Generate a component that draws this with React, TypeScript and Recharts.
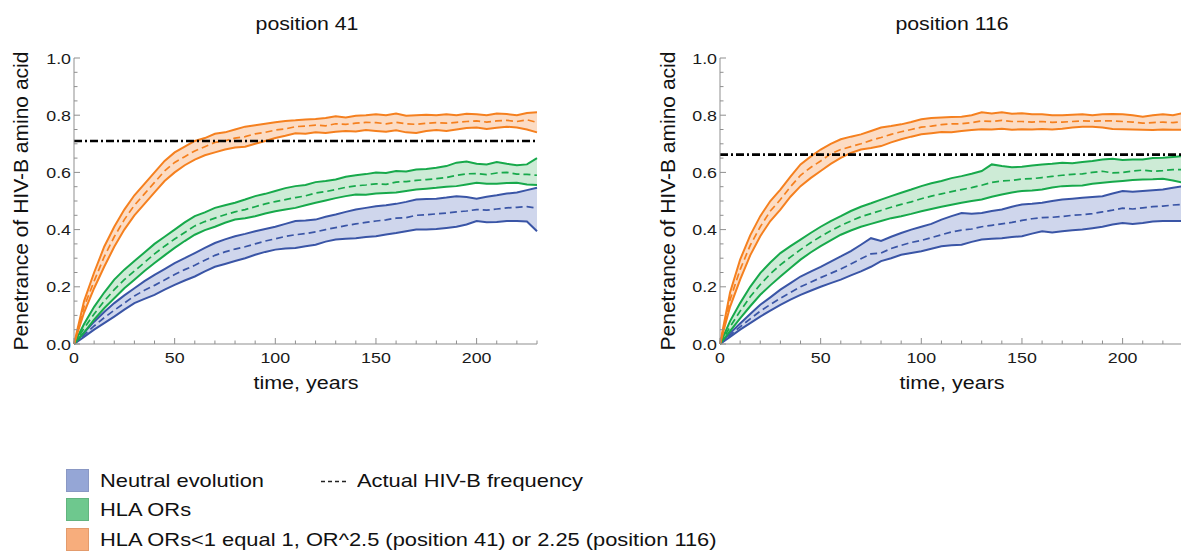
import React from 'react';
import { ComposedChart, Area, Line, XAxis, YAxis, ReferenceLine } from 'recharts';

// time axis, years (sampled every 5 years)
const years = [0, 5, 10, 15, 20, 25, 30, 35, 40, 45, 50, 55, 60, 65, 70, 75, 80, 85, 90, 95, 100, 105, 110, 115, 120, 125, 130, 135, 140, 145, 150, 155, 160, 165, 170, 175, 180, 185, 190, 195, 200, 205, 210, 215, 220, 225, 230];

const xTicks = [0, 10, 20, 30, 40, 50, 60, 70, 80, 90, 100, 110, 120, 130, 140, 150, 160, 170, 180, 190, 200, 210, 220, 230];
const yTicks = [0, 0.05, 0.1, 0.15, 0.2, 0.25, 0.3, 0.35, 0.4, 0.45, 0.5, 0.55, 0.6, 0.65, 0.7, 0.75, 0.8, 0.85, 0.9, 0.95, 1];

// actual HIV-B frequency (reference line)
const actual41 = 0.71;
const actual116 = 0.662;

// position 41
const blueLo41 = [0, 0.025, 0.05, 0.073, 0.096, 0.12, 0.143, 0.158, 0.172, 0.19, 0.207, 0.222, 0.236, 0.254, 0.27, 0.28, 0.29, 0.3, 0.312, 0.322, 0.33, 0.334, 0.336, 0.342, 0.347, 0.358, 0.365, 0.368, 0.37, 0.374, 0.377, 0.383, 0.388, 0.394, 0.4, 0.4, 0.402, 0.406, 0.41, 0.418, 0.43, 0.426, 0.427, 0.43, 0.43, 0.428, 0.394];
const blueMid41 = [0, 0.032, 0.063, 0.092, 0.118, 0.143, 0.168, 0.188, 0.205, 0.224, 0.243, 0.26, 0.275, 0.293, 0.31, 0.322, 0.332, 0.34, 0.35, 0.36, 0.368, 0.376, 0.382, 0.386, 0.392, 0.4, 0.407, 0.414, 0.42, 0.425, 0.43, 0.434, 0.44, 0.442, 0.45, 0.452, 0.455, 0.458, 0.462, 0.465, 0.47, 0.468, 0.472, 0.476, 0.478, 0.48, 0.475];
const blueHi41 = [0, 0.04, 0.078, 0.112, 0.143, 0.17, 0.195, 0.22, 0.242, 0.262, 0.283, 0.3, 0.318, 0.336, 0.353, 0.366, 0.377, 0.385, 0.394, 0.402, 0.41, 0.42, 0.43, 0.432, 0.435, 0.445, 0.453, 0.462, 0.47, 0.476, 0.482, 0.485, 0.49, 0.497, 0.505, 0.507, 0.508, 0.512, 0.517, 0.514, 0.508, 0.515, 0.52, 0.526, 0.53, 0.538, 0.546];
const greenLo41 = [0, 0.04, 0.085, 0.125, 0.16, 0.195, 0.225, 0.255, 0.283, 0.31, 0.336, 0.36, 0.382, 0.398, 0.41, 0.424, 0.435, 0.44, 0.447, 0.456, 0.464, 0.47, 0.476, 0.485, 0.494, 0.502, 0.51, 0.517, 0.523, 0.522, 0.526, 0.528, 0.53, 0.535, 0.54, 0.543, 0.546, 0.55, 0.552, 0.558, 0.564, 0.56, 0.56, 0.563, 0.564, 0.558, 0.556];
const greenMid41 = [0, 0.055, 0.105, 0.15, 0.19, 0.225, 0.255, 0.285, 0.315, 0.342, 0.367, 0.39, 0.413, 0.428, 0.44, 0.452, 0.462, 0.47, 0.48, 0.49, 0.498, 0.505, 0.512, 0.518, 0.528, 0.533, 0.54, 0.548, 0.553, 0.556, 0.56, 0.558, 0.566, 0.568, 0.572, 0.575, 0.578, 0.582, 0.59, 0.595, 0.596, 0.592, 0.598, 0.6, 0.594, 0.593, 0.59];
const greenHi41 = [0, 0.07, 0.13, 0.18, 0.225, 0.26, 0.29, 0.32, 0.35, 0.375, 0.4, 0.425, 0.447, 0.46, 0.476, 0.485, 0.494, 0.505, 0.517, 0.525, 0.535, 0.545, 0.552, 0.556, 0.566, 0.57, 0.575, 0.585, 0.59, 0.594, 0.6, 0.598, 0.605, 0.603, 0.61, 0.612, 0.616, 0.622, 0.634, 0.638, 0.63, 0.628, 0.636, 0.63, 0.625, 0.628, 0.65];
const orangeLo41 = [0, 0.11, 0.195, 0.27, 0.34, 0.4, 0.45, 0.49, 0.53, 0.57, 0.6, 0.625, 0.645, 0.66, 0.67, 0.68, 0.687, 0.69, 0.7, 0.71, 0.72, 0.728, 0.737, 0.735, 0.74, 0.738, 0.742, 0.745, 0.743, 0.748, 0.745, 0.742, 0.747, 0.74, 0.738, 0.745, 0.748, 0.745, 0.75, 0.755, 0.757, 0.752, 0.756, 0.76, 0.757, 0.75, 0.74];
const orangeMid41 = [0, 0.13, 0.22, 0.305, 0.375, 0.435, 0.485, 0.525, 0.565, 0.605, 0.635, 0.655, 0.675, 0.69, 0.705, 0.71, 0.72, 0.725, 0.735, 0.74, 0.748, 0.752, 0.76, 0.762, 0.765, 0.763, 0.77, 0.768, 0.772, 0.775, 0.774, 0.77, 0.775, 0.77, 0.768, 0.772, 0.774, 0.772, 0.775, 0.778, 0.78, 0.776, 0.78, 0.782, 0.778, 0.784, 0.775];
const orangeHi41 = [0, 0.15, 0.25, 0.34, 0.41, 0.47, 0.52, 0.56, 0.6, 0.64, 0.67, 0.69, 0.71, 0.72, 0.735, 0.74, 0.75, 0.76, 0.765, 0.77, 0.775, 0.78, 0.782, 0.785, 0.787, 0.79, 0.796, 0.792, 0.798, 0.8, 0.803, 0.8, 0.806, 0.798, 0.8, 0.802, 0.8, 0.803, 0.8, 0.805, 0.803, 0.8, 0.806, 0.804, 0.8, 0.808, 0.81];

// position 116
const blueLo116 = [0, 0.025, 0.05, 0.073, 0.096, 0.117, 0.137, 0.155, 0.172, 0.186, 0.2, 0.213, 0.225, 0.24, 0.254, 0.27, 0.29, 0.3, 0.312, 0.318, 0.324, 0.333, 0.342, 0.345, 0.347, 0.357, 0.365, 0.368, 0.37, 0.374, 0.377, 0.386, 0.394, 0.39, 0.394, 0.398, 0.4, 0.405, 0.41, 0.418, 0.423, 0.42, 0.423, 0.428, 0.43, 0.43, 0.43];
const blueMid116 = [0, 0.031, 0.06, 0.088, 0.115, 0.138, 0.16, 0.18, 0.2, 0.216, 0.232, 0.247, 0.262, 0.28, 0.298, 0.315, 0.318, 0.334, 0.345, 0.355, 0.362, 0.372, 0.382, 0.392, 0.398, 0.402, 0.41, 0.415, 0.42, 0.425, 0.432, 0.438, 0.442, 0.443, 0.446, 0.45, 0.452, 0.456, 0.462, 0.468, 0.475, 0.472, 0.476, 0.48, 0.482, 0.486, 0.488];
const blueHi116 = [0, 0.038, 0.072, 0.105, 0.137, 0.163, 0.19, 0.213, 0.236, 0.253, 0.27, 0.288, 0.306, 0.325, 0.347, 0.37, 0.36, 0.375, 0.388, 0.4, 0.41, 0.42, 0.435, 0.447, 0.458, 0.455, 0.458, 0.465, 0.47, 0.48, 0.488, 0.49, 0.494, 0.5, 0.505, 0.508, 0.511, 0.514, 0.517, 0.526, 0.535, 0.532, 0.535, 0.538, 0.54, 0.546, 0.552];
const greenLo116 = [0, 0.045, 0.09, 0.132, 0.172, 0.205, 0.236, 0.266, 0.295, 0.32, 0.342, 0.362, 0.382, 0.397, 0.41, 0.42, 0.43, 0.44, 0.447, 0.455, 0.464, 0.472, 0.48, 0.487, 0.494, 0.5, 0.505, 0.515, 0.523, 0.53, 0.535, 0.537, 0.54, 0.547, 0.552, 0.553, 0.554, 0.56, 0.564, 0.567, 0.57, 0.573, 0.575, 0.576, 0.578, 0.572, 0.564];
const greenMid116 = [0, 0.06, 0.115, 0.165, 0.208, 0.245, 0.277, 0.304, 0.33, 0.354, 0.376, 0.396, 0.414, 0.43, 0.445, 0.456, 0.467, 0.478, 0.488, 0.497, 0.508, 0.517, 0.525, 0.533, 0.54, 0.547, 0.555, 0.565, 0.57, 0.572, 0.577, 0.578, 0.582, 0.586, 0.59, 0.593, 0.595, 0.6, 0.604, 0.598, 0.6, 0.605, 0.608, 0.604, 0.606, 0.61, 0.61];
const greenHi116 = [0, 0.08, 0.143, 0.2, 0.248, 0.285, 0.318, 0.342, 0.365, 0.388, 0.41, 0.43, 0.447, 0.465, 0.48, 0.492, 0.505, 0.517, 0.529, 0.54, 0.552, 0.562, 0.57, 0.58, 0.587, 0.595, 0.605, 0.628, 0.622, 0.618, 0.62, 0.624, 0.628, 0.63, 0.634, 0.632, 0.636, 0.64, 0.645, 0.648, 0.643, 0.645, 0.645, 0.65, 0.651, 0.654, 0.657];
const orangeLo116 = [0, 0.13, 0.225, 0.31, 0.377, 0.43, 0.47, 0.515, 0.552, 0.58, 0.605, 0.63, 0.651, 0.668, 0.68, 0.685, 0.692, 0.705, 0.716, 0.725, 0.733, 0.737, 0.741, 0.74, 0.745, 0.748, 0.751, 0.75, 0.753, 0.749, 0.751, 0.75, 0.752, 0.75, 0.753, 0.757, 0.76, 0.76, 0.757, 0.752, 0.751, 0.75, 0.749, 0.748, 0.75, 0.749, 0.749];
const orangeMid116 = [0, 0.155, 0.26, 0.345, 0.41, 0.465, 0.505, 0.55, 0.59, 0.617, 0.64, 0.665, 0.68, 0.69, 0.7, 0.712, 0.722, 0.733, 0.742, 0.75, 0.758, 0.762, 0.767, 0.77, 0.77, 0.774, 0.78, 0.778, 0.782, 0.778, 0.778, 0.776, 0.778, 0.775, 0.776, 0.778, 0.78, 0.779, 0.78, 0.78, 0.778, 0.776, 0.772, 0.774, 0.776, 0.774, 0.778];
const orangeHi116 = [0, 0.18, 0.295, 0.38, 0.447, 0.5, 0.54, 0.585, 0.628, 0.655, 0.68, 0.7, 0.716, 0.725, 0.733, 0.745, 0.757, 0.762, 0.768, 0.776, 0.786, 0.79, 0.792, 0.794, 0.795, 0.8, 0.81, 0.806, 0.81, 0.805, 0.807, 0.803, 0.803, 0.8, 0.8, 0.802, 0.803, 0.8, 0.803, 0.804, 0.803, 0.8, 0.795, 0.8, 0.803, 0.8, 0.807];

const BLUE = '#3a55a6';
const BLUE_FILL = '#cfd6ec';
const GREEN = '#17a94b';
const GREEN_FILL = '#cdebd6';
const ORANGE = '#f5801f';
const ORANGE_FILL = '#fcdcc4';
const AXIS = '#8f8f8f';
const FONT = '"Liberation Sans", Arial, sans-serif';
// the source figure is stretched sideways a little; text follows it
const STRETCH = 1.15;

function buildRows(bl, bm, bh, gl, gm, gh, ol, om, oh) {
  return years.map((t, i) => ({
    t,
    blueBand: [bl[i], bh[i]], blueLo: bl[i], blueMid: bm[i], blueHi: bh[i],
    greenBand: [gl[i], gh[i]], greenLo: gl[i], greenMid: gm[i], greenHi: gh[i],
    orangeBand: [ol[i], oh[i]], orangeLo: ol[i], orangeMid: om[i], orangeHi: oh[i],
  }));
}

const rows41 = buildRows(blueLo41, blueMid41, blueHi41, greenLo41, greenMid41, greenHi41, orangeLo41, orangeMid41, orangeHi41);
const rows116 = buildRows(blueLo116, blueMid116, blueHi116, greenLo116, greenMid116, greenHi116, orangeLo116, orangeMid116, orangeHi116);

const XTick = (props: any) => {
  const { x, y, payload } = props;
  const v = payload.value;
  const major = v % 50 === 0;
  return (
    <g>
      <line x1={x} x2={x} y1={y} y2={y - (major ? 6 : 3.5)} stroke={AXIS} strokeWidth={1} />
      {major && (
        <text
          transform={`translate(${x},${y + 19}) scale(${STRETCH},1)`}
          textAnchor="middle"
          fontSize={15.5}
          fontFamily={FONT}
          fill="#1a1a1a"
        >
          {v}
        </text>
      )}
    </g>
  );
};

const YTick = (props: any) => {
  const { x, y, payload } = props;
  const v = payload.value;
  const major = Math.abs(v * 5 - Math.round(v * 5)) < 1e-6;
  return (
    <g>
      <line x1={x} x2={x + (major ? 6 : 3.5)} y1={y} y2={y} stroke={AXIS} strokeWidth={1} />
      {major && (
        <text
          transform={`translate(${x - 3},${y}) scale(${STRETCH},1)`}
          dy="0.36em"
          textAnchor="end"
          fontSize={15.5}
          fontFamily={FONT}
          fill="#1a1a1a"
        >
          {v.toFixed(1)}
        </text>
      )}
    </g>
  );
};

const Panel = ({ rows, actual, margin }: any) => (
  <ComposedChart width={560} height={400} data={rows} margin={margin}>
    <XAxis
      dataKey="t"
      type="number"
      domain={[0, 230]}
      ticks={xTicks}
      interval={0}
      tickSize={0}
      tickMargin={0}
      tickLine={false}
      stroke={AXIS}
      tick={<XTick />}
      height={30}
    />
    <YAxis
      type="number"
      domain={[0, 1]}
      ticks={yTicks}
      interval={0}
      tickSize={0}
      tickMargin={0}
      tickLine={false}
      stroke={AXIS}
      tick={<YTick />}
      width={40}
    />
    <Area dataKey="blueBand" type="linear" fill={BLUE_FILL} fillOpacity={1} stroke="none" isAnimationActive={false} />
    <Area dataKey="greenBand" type="linear" fill={GREEN_FILL} fillOpacity={1} stroke="none" isAnimationActive={false} />
    <Area dataKey="orangeBand" type="linear" fill={ORANGE_FILL} fillOpacity={1} stroke="none" isAnimationActive={false} />
    <Line dataKey="blueLo" type="linear" stroke={BLUE} strokeWidth={2} dot={false} isAnimationActive={false} />
    <Line dataKey="blueHi" type="linear" stroke={BLUE} strokeWidth={2} dot={false} isAnimationActive={false} />
    <Line dataKey="blueMid" type="linear" stroke={BLUE} strokeWidth={1.7} strokeDasharray="7 4" dot={false} isAnimationActive={false} />
    <Line dataKey="greenLo" type="linear" stroke={GREEN} strokeWidth={2} dot={false} isAnimationActive={false} />
    <Line dataKey="greenHi" type="linear" stroke={GREEN} strokeWidth={2} dot={false} isAnimationActive={false} />
    <Line dataKey="greenMid" type="linear" stroke={GREEN} strokeWidth={1.7} strokeDasharray="7 4" dot={false} isAnimationActive={false} />
    <Line dataKey="orangeLo" type="linear" stroke={ORANGE} strokeWidth={2} dot={false} isAnimationActive={false} />
    <Line dataKey="orangeHi" type="linear" stroke={ORANGE} strokeWidth={2} dot={false} isAnimationActive={false} />
    <Line dataKey="orangeMid" type="linear" stroke={ORANGE} strokeWidth={1.7} strokeDasharray="7 4" dot={false} isAnimationActive={false} />
    <ReferenceLine y={actual} stroke="#000" strokeWidth={2.6} strokeDasharray="8 3 2 3" />
  </ComposedChart>
);

const text = (extra: any) => ({
  position: 'absolute' as const,
  fontFamily: FONT,
  color: '#111',
  whiteSpace: 'nowrap' as const,
  ...extra,
});

const legendBox = (top: number, fill: string, border: string) => (
  <div
    style={{
      position: 'absolute',
      left: 66,
      top,
      width: 21,
      height: 21,
      background: fill,
      border: `1px solid ${border}`,
    }}
  />
);

const centred = `translateX(-50%) scaleX(${STRETCH})`;
const leftStretch = { transform: `scaleX(${STRETCH})`, transformOrigin: 'left center' };

export default function App() {
  return (
    <div
      style={{
        position: 'fixed',
        left: 0,
        top: 0,
        width: 1181,
        height: 553,
        overflow: 'hidden',
        background: '#fff',
      }}
    >
      <div style={{ position: 'absolute', left: 0, top: 0 }}>
        <Panel rows={rows41} actual={actual41} margin={{ top: 58, right: 23, bottom: 26, left: 34 }} />
      </div>
      <div style={{ position: 'absolute', left: 640, top: 0 }}>
        <Panel rows={rows116} actual={actual116} margin={{ top: 58, right: 17, bottom: 26, left: 40 }} />
      </div>

      {/* titles */}
      <div style={text({ left: 307, top: 13, fontSize: 18.5, transform: centred })}>position 41</div>
      <div style={text({ left: 952, top: 13, fontSize: 18.5, transform: centred })}>position 116</div>

      {/* axis titles */}
      <div style={text({ left: 21, top: 201, fontSize: 21, transform: 'translate(-50%, -50%) rotate(-90deg)' })}>
        Penetrance of HIV-B amino acid
      </div>
      <div style={text({ left: 668, top: 201, fontSize: 21, transform: 'translate(-50%, -50%) rotate(-90deg)' })}>
        Penetrance of HIV-B amino acid
      </div>
      <div style={text({ left: 306, top: 372, fontSize: 18.7, transform: centred })}>time, years</div>
      <div style={text({ left: 952, top: 372, fontSize: 18.7, transform: centred })}>time, years</div>

      {/* legend */}
      {legendBox(469, '#95a6d6', '#8a98c4')}
      {legendBox(498, '#6ec88e', '#62b47f')}
      {legendBox(528, '#f7ad7c', '#e39b6c')}
      <div style={text({ left: 100, top: 469, fontSize: 19, lineHeight: '23px', ...leftStretch })}>Neutral evolution</div>
      <div style={text({ left: 100, top: 498, fontSize: 19, lineHeight: '23px', ...leftStretch })}>HLA ORs</div>
      <div style={text({ left: 100, top: 528, fontSize: 19, lineHeight: '23px', ...leftStretch })}>
        HLA ORs&lt;1 equal 1, OR^2.5 (position 41) or 2.25 (position 116)
      </div>
      <svg style={{ position: 'absolute', left: 318, top: 470 }} width={32} height={22}>
        <line x1={3} x2={30} y1={11.5} y2={11.5} stroke="#222" strokeWidth={1.3} strokeDasharray="4 3" />
      </svg>
      <div style={text({ left: 357, top: 469, fontSize: 19, lineHeight: '23px', ...leftStretch })}>Actual HIV-B frequency</div>
    </div>
  );
}
